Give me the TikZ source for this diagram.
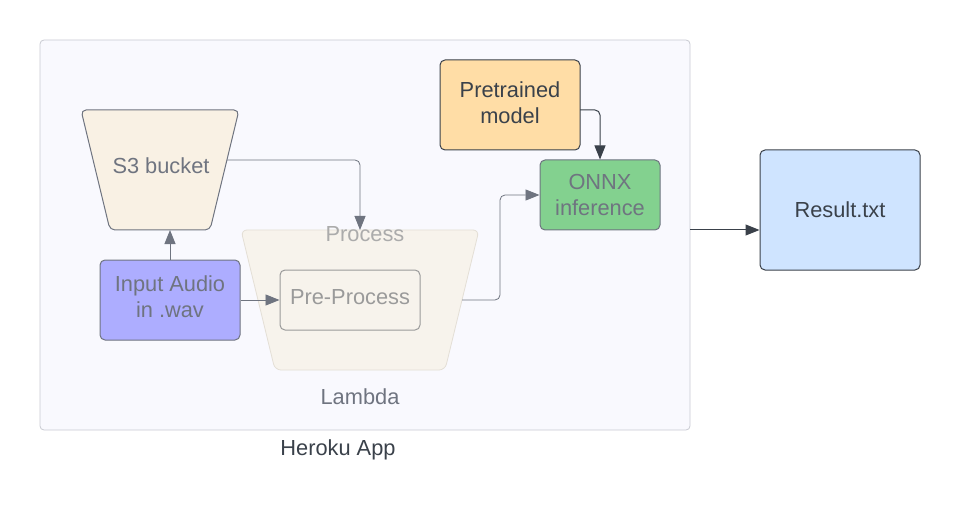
\documentclass[tikz,border=0pt]{standalone}
\usepackage{fontspec}
\setmainfont{Liberation Sans}
\usetikzlibrary{arrows.meta}
\definecolor{contfill}{HTML}{F9F9FE}
\definecolor{contline}{HTML}{C8CAD2}
\definecolor{sthree}{HTML}{F9F1E4}
\definecolor{procfill}{HTML}{F7F3EC}
\definecolor{procline}{HTML}{E4DFD6}
\definecolor{audio}{HTML}{ADADFF}
\definecolor{pretr}{HTML}{FFDDA6}
\definecolor{onnx}{HTML}{83D18F}
\definecolor{result}{HTML}{CFE4FF}
\definecolor{dark}{HTML}{3A414A}
\definecolor{midgray}{HTML}{6F7480}
\definecolor{lightgray}{HTML}{9A9A9A}
\definecolor{paletxt}{HTML}{ABABAB}
\begin{document}
\begin{tikzpicture}[x=1pt,y=-1pt,
  txt/.style={font=\fontsize{21.8}{26}\selectfont, align=center, inner sep=0pt},
  box/.style={rectangle, rounded corners=5pt, draw, line width=1pt},
  conn/.style={line width=1pt, rounded corners=5pt, -{Triangle[length=14pt,width=11pt]}}]
\useasboundingbox (0,0) rectangle (960,521);
% container
\node[box, draw=contline, fill=contfill, minimum width=650pt, minimum height=390pt, rounded corners=4pt, line width=0.8pt] (heroku) at (365,235) {};
\node[txt, text=dark] (herokulbl) at (338,450) {Heroku App};
% S3 bucket trapezoid
\draw[line width=1pt, draw=midgray, fill=sthree, rounded corners=5pt]
  (81,110) -- (239,110) -- (210,230) -- (110,230) -- cycle;
\node[txt, text=midgray] (s3) at (161,166) {S3 bucket};
\coordinate (s3r) at (227,160);
\coordinate (s3b) at (170,230);
% Process trapezoid
\draw[line width=0.8pt, draw=procline, fill=procfill, rounded corners=6pt]
  (241,230) -- (479,230) -- (445,370) -- (275,370) -- cycle;
\node[txt, text=paletxt] (proclbl) at (365,234) {Process};
\coordinate (proct) at (360,230);
\coordinate (procr) at (462,300);
\node[txt, text=midgray] (lambda) at (360,397) {Lambda};
% Pre-Process
\node[box, draw=lightgray, fill=procfill, minimum width=140pt, minimum height=60pt] (pre) at (350,300) {};
\node[txt, text=lightgray] (pretxt) at (350,297) {Pre-Process};
% Input Audio
\node[box, draw=midgray, fill=audio, minimum width=140pt, minimum height=80pt] (audio) at (170,300) {};
\node[txt, text=midgray] (audiotxt) at (170,296.5) {Input Audio\\in .wav};
% Pretrained model
\node[box, draw=dark, fill=pretr, minimum width=140pt, minimum height=90pt] (pretr) at (510,105) {};
\node[txt, text=dark] (pretrtxt) at (510,102.5) {Pretrained\\model};
% ONNX
\node[box, draw=midgray, fill=onnx, minimum width=120pt, minimum height=70pt] (onnx) at (600,195) {};
\node[txt, text=midgray] (onnxtxt) at (600,195) {ONNX\\inference};
% Result
\node[box, draw=dark, fill=result, minimum width=160pt, minimum height=120pt] (result) at (840,210) {};
\node[txt, text=dark] (resulttxt) at (840,210) {Result.txt};
\coordinate (pretrout) at (580,110);
\coordinate (herokuout) at (690,230);
% connectors
\draw[conn, draw=midgray] (audio.north) -- (s3b);
\draw[conn, draw=midgray, line width=0.8pt] (audio.east) -- (pre.west);
\draw[conn, draw=midgray, line width=0.8pt] (s3r) -| (proct);
\draw[conn, draw=midgray, line width=0.8pt] (procr) -- (500,300) |- (onnx.west);
\draw[conn, draw=dark] (pretrout) -| (onnx.north);
\draw[conn, draw=dark] (herokuout) -- (herokuout -| result.west);
\end{tikzpicture}
\end{document}
